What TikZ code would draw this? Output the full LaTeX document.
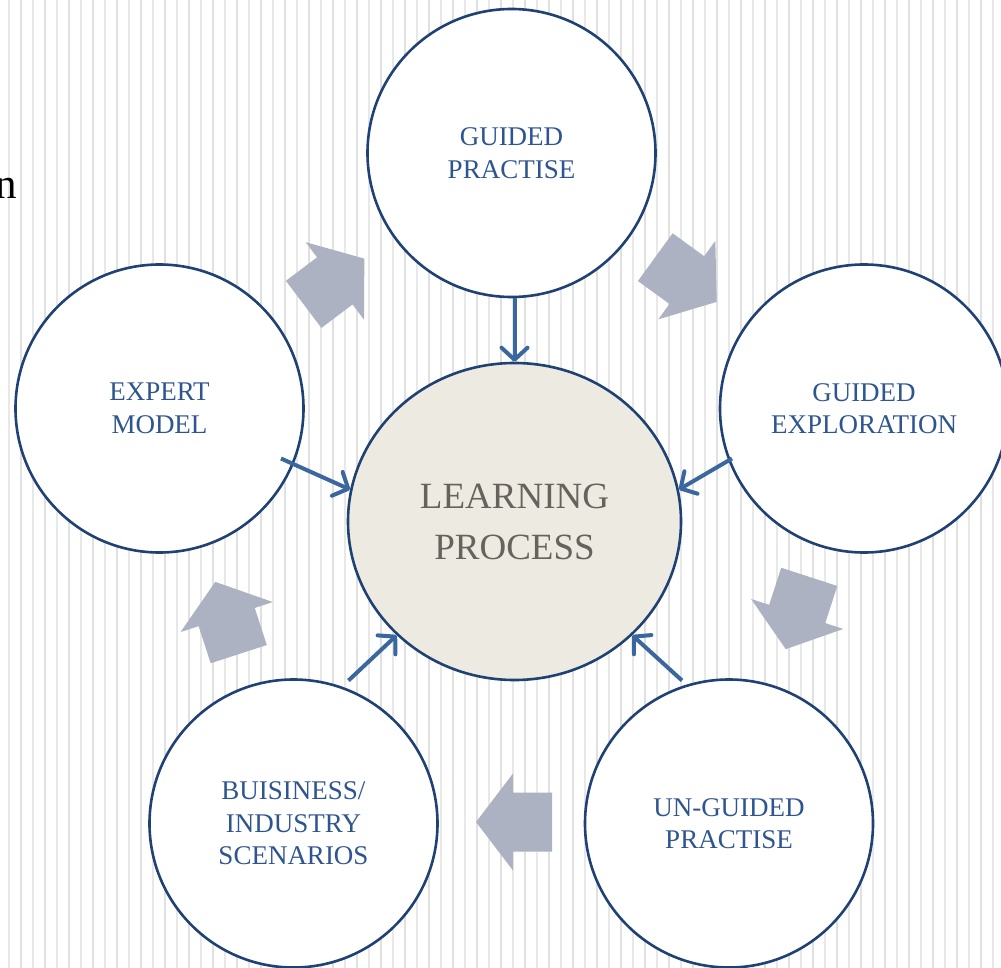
\documentclass[tikz,border=0pt]{standalone}
\usepackage{fontspec}
\setmainfont{Liberation Serif}
\usetikzlibrary{shapes.geometric,arrows.meta,calc}
\definecolor{ringblue}{HTML}{1F4173}
\definecolor{labelblue}{HTML}{2E5590}
\definecolor{linkblue}{HTML}{3B679F}
\definecolor{corefill}{HTML}{EDEBE1}
\definecolor{coretext}{HTML}{67625E}
\definecolor{cyclegray}{HTML}{ACB2C1}
\definecolor{stripedark}{HTML}{E0E0E0}
\definecolor{stripelight}{HTML}{E8E8E8}

\begin{document}
\begin{tikzpicture}[x=1pt,y=-1pt,
  stage/.style={circle, draw=ringblue, line width=2.6pt, fill=white,
    minimum size=288pt, inner sep=0pt, align=center, text=labelblue,
    font=\fontsize{27}{32.5}\selectfont},
  core/.style={ellipse, draw=ringblue, line width=2.6pt, fill=corefill,
    minimum width=333pt, minimum height=317pt, inner sep=0pt, align=center,
    text=coretext, font=\fontsize{37}{51}\selectfont},
  link/.style={draw=linkblue, line width=4pt,
    -{Straight Barb[length=12pt,width=26pt,round]}},
  cyclearrow/.style={fill=cyclegray},
]
\useasboundingbox (0,0) rectangle (1001,968);
\clip (0,0) rectangle (1001,968);

% striped backdrop
\fill[white] (0,0) rectangle (1001,968);
\foreach \k in {0,...,41} {
  \fill[stripelight] ({8.4+24*\k},0) rectangle ++(1.4,968);
  \fill[stripedark] ({20.1+24*\k},0) rectangle ++(2,968);
}

% stray letter at the left edge
\node[anchor=base east, inner sep=0pt, font=\fontsize{43}{43}\selectfont] (edgeletter) at (17,199) {n};

% cycle arrows between the stages
\foreach \cx/\cy/\ang in {686/279.5/-36, 797.5/613/-108, 514/822/180, 227/618/108, 334/281.5/37}
  \fill[cyclearrow, shift={(\cx,\cy)}, rotate=\ang]
    (-38,-29.5) -- (1,-29.5) -- (1,-48.5) -- (38,0) -- (1,48.5) -- (1,29.5) -- (-38,29.5) -- cycle;

% stages
\node[core]  (lp) at (514.5,521.5) {LEARNING\\PROCESS};
\node[stage] (gp) at (511.5,153)   {GUIDED\\PRACTISE};
\node[stage] (ge) at (864,408.5)   {GUIDED\\EXPLORATION};
\node[stage] (ug) at (729,823.5)   {UN-GUIDED\\PRACTISE};
\node[stage] (bi) at (293.5,823.5) {BUISINESS/\\INDUSTRY\\SCENARIOS};
\node[stage] (em) at (159.5,408.5) {EXPERT\\MODEL};

% links into the learning process
\coordinate (gp-out) at (gp.south -| lp.north);
\coordinate (ge-out) at ($(ge.center)+(-132,50)$);
\coordinate (em-out) at ($(em.center)+(121.5,50)$);
\coordinate (bi-out) at ($(bi.center)+(55,-143)$);
\coordinate (ug-out) at ($(ug.center)+(-47,-143)$);

\draw[link] (gp-out) -- (lp.north);
\draw[link] (ge-out) -- (lp.11);
\draw[link] (em-out) -- (lp.169);
\draw[link] (bi-out) -- (lp.224);
\draw[link] (ug-out) -- (lp.316);
\end{tikzpicture}
\end{document}
